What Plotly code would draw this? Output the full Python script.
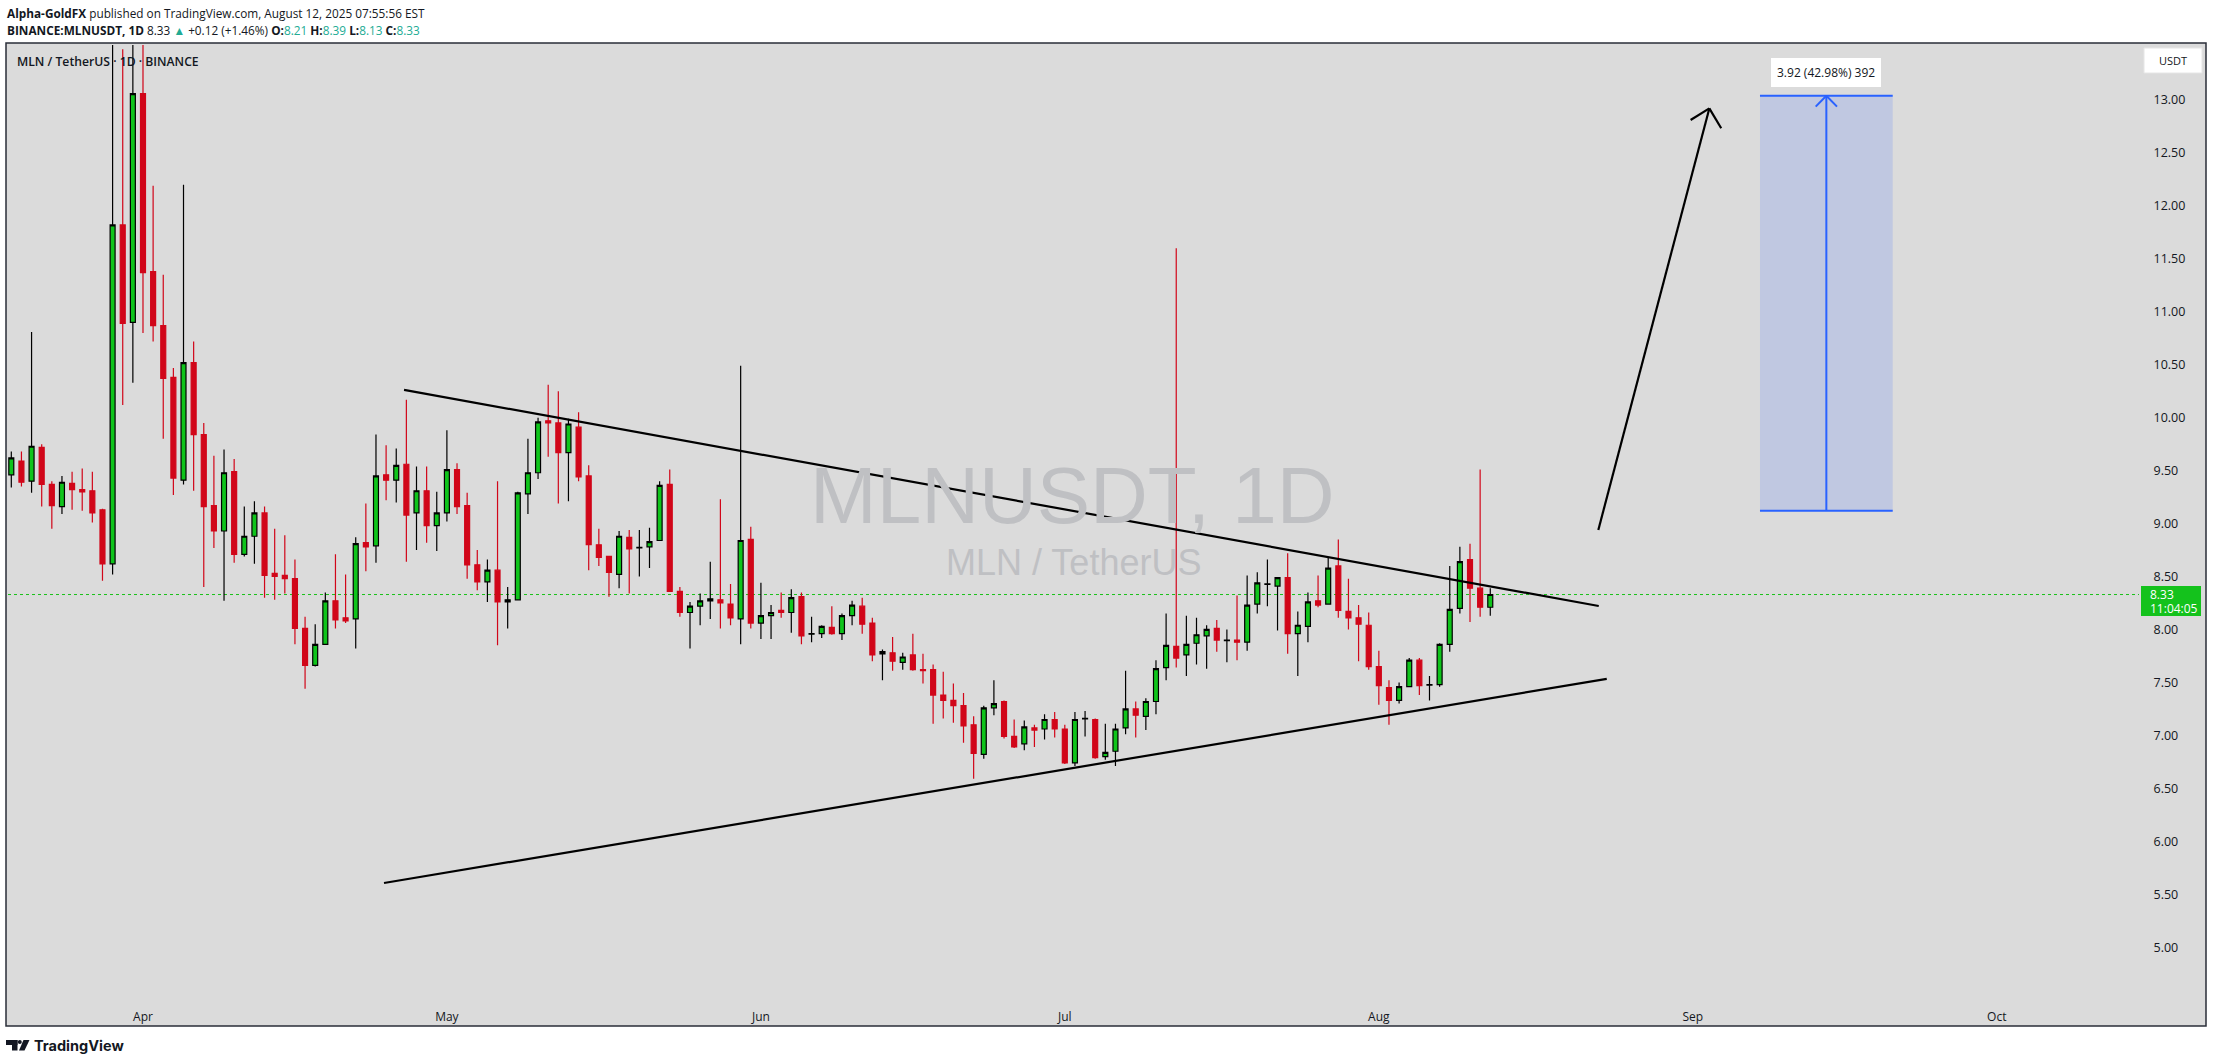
import plotly.graph_objects as go
import pandas as pd

# ---------------- data ----------------
start_date = "2025-03-19"

opens = [9.46, 9.59, 9.40, 9.72, 9.37, 9.16, 9.38, 9.32, 9.31, 9.13,
         8.62, 11.82, 10.90, 13.06, 11.38, 10.87, 10.38, 9.41, 10.52, 9.84,
         9.17, 8.93, 9.49, 8.71, 8.88, 9.10, 8.53, 8.51, 8.48, 8.01,
         7.66, 7.86, 8.27, 8.11, 8.10, 8.82, 8.79, 9.46, 9.41, 9.56,
         9.10, 9.31, 8.98, 9.10, 9.51, 9.17, 8.61, 8.45, 8.56, 8.26,
         8.28, 9.28, 9.48, 9.97, 9.95, 9.67, 9.91, 9.45, 8.80, 8.69,
         8.52, 8.87, 8.77, 8.78, 8.84, 9.37, 8.36, 8.16, 8.22, 8.27,
         8.28, 8.24, 8.10, 8.85, 8.06, 8.13, 8.18, 8.16, 8.31, 7.955,
         7.96, 8.02, 7.96, 8.13, 8.22, 8.06, 7.77, 7.78, 7.69, 7.76,
         7.62, 7.62, 7.38, 7.33, 7.28, 7.10, 6.82, 7.26, 7.32, 6.99,
         6.92, 7.07, 7.06, 7.15, 7.06, 6.74, 7.155, 7.15, 6.80, 6.85,
         7.07, 7.25, 7.18, 7.32, 7.64, 7.84, 7.76, 7.87, 7.94, 8.01,
         7.895, 7.90, 7.88, 8.24, 8.425, 8.41, 8.49, 7.96, 8.03, 8.27,
         8.24, 8.60, 8.17, 8.11, 8.04, 7.65, 7.45, 7.33, 7.46, 7.71,
         7.475, 7.48, 7.86, 8.20, 8.66, 8.39, 8.21]

highs = [9.68, 9.68, 10.81, 9.75, 9.40, 9.45, 9.49, 9.52, 9.49, 9.14,
         14.2, 13.48, 14.2, 14.2, 12.19, 11.35, 10.47, 12.20, 10.72, 9.95,
         9.64, 9.70, 9.61, 9.16, 9.21, 9.16, 8.95, 8.89, 8.66, 8.12,
         8.05, 8.35, 8.71, 8.52, 8.87, 9.19, 9.84, 9.74, 9.71, 10.17,
         9.54, 9.54, 9.30, 9.88, 9.57, 9.29, 8.75, 8.66, 9.40, 8.40,
         9.30, 9.80, 10.00, 10.31, 10.25, 9.99, 10.05, 9.55, 8.95, 8.69,
         8.93, 8.94, 8.94, 8.96, 9.40, 9.51, 8.40, 8.26, 8.34, 8.64,
         9.23, 8.43, 10.49, 8.97, 8.44, 8.23, 8.35, 8.38, 8.35, 8.12,
         8.04, 8.22, 8.15, 8.27, 8.30, 8.11, 7.81, 7.93, 7.78, 7.96,
         7.77, 7.67, 7.60, 7.49, 7.40, 7.18, 7.28, 7.52, 7.33, 7.15,
         7.14, 7.10, 7.20, 7.22, 7.10, 7.22, 7.23, 7.16, 7.11, 7.11,
         7.61, 7.32, 7.35, 7.71, 8.15, 11.60, 8.13, 8.11, 8.04, 8.09,
         8.00, 8.32, 8.51, 8.54, 8.66, 8.49, 8.72, 8.17, 8.35, 8.51,
         8.68, 8.85, 8.48, 8.23, 8.16, 7.80, 7.52, 7.50, 7.73, 7.73,
         7.56, 7.87, 8.60, 8.78, 8.81, 9.51, 8.39]

lows = [9.34, 9.35, 9.29, 9.16, 8.95, 9.09, 9.13, 9.12, 9.01, 8.46,
        8.52, 10.12, 10.33, 10.80, 10.72, 9.80, 9.27, 9.37, 9.31, 8.40,
        8.77, 8.27, 8.63, 8.69, 8.62, 8.30, 8.28, 8.34, 7.86, 7.44,
        7.65, 7.86, 8.01, 8.06, 7.82, 8.55, 8.63, 9.22, 9.20, 8.64,
        8.75, 8.82, 8.74, 9.02, 9.09, 8.48, 8.37, 8.26, 7.85, 8.01,
        8.28, 9.09, 9.42, 9.63, 9.19, 9.21, 9.40, 8.56, 8.60, 8.31,
        8.39, 8.34, 8.50, 8.58, 8.84, 8.36, 8.12, 7.82, 8.04, 8.10,
        8.01, 8.04, 7.86, 8.01, 7.91, 7.91, 8.11, 7.97, 7.86, 7.88,
        7.92, 7.95, 7.90, 8.04, 7.96, 7.70, 7.52, 7.61, 7.62, 7.61,
        7.49, 7.11, 7.16, 7.12, 6.93, 6.59, 6.78, 7.19, 6.97, 6.88,
        6.86, 6.89, 6.96, 6.98, 6.73, 6.71, 6.99, 6.78, 6.77, 6.71,
        7.01, 6.98, 7.05, 7.20, 7.52, 7.64, 7.56, 7.67, 7.63, 7.79,
        7.69, 7.71, 7.80, 8.15, 8.22, 7.99, 7.77, 7.56, 7.88, 8.21,
        8.24, 8.11, 8.00, 7.70, 7.62, 7.29, 7.10, 7.30, 7.46, 7.38,
        7.33, 7.46, 7.79, 8.15, 8.07, 8.12, 8.13]

closes = [9.62, 9.39, 9.73, 9.37, 9.17, 9.39, 9.32, 9.30, 9.10, 8.62,
          11.82, 10.89, 13.06, 11.37, 10.87, 10.37, 9.43, 10.52, 9.84, 9.16,
          8.93, 9.48, 8.71, 8.88, 9.10, 8.51, 8.50, 8.48, 8.01, 7.66,
          7.86, 8.27, 8.09, 8.08, 8.81, 8.78, 9.45, 9.41, 9.55, 9.08,
          9.31, 8.98, 9.10, 9.51, 9.16, 8.61, 8.45, 8.56, 8.26, 8.28,
          9.29, 9.48, 9.96, 9.95, 9.67, 9.94, 9.44, 8.80, 8.68, 8.54,
          8.88, 8.76, 8.775, 8.83, 9.36, 8.36, 8.16, 8.22, 8.27, 8.29,
          8.25, 8.11, 8.84, 8.06, 8.13, 8.16, 8.16, 8.30, 7.94, 7.96,
          8.03, 7.96, 8.13, 8.23, 8.05, 7.76, 7.79, 7.70, 7.74, 7.62,
          7.61, 7.38, 7.33, 7.28, 7.09, 6.83, 7.26, 7.30, 6.99, 6.89,
          7.08, 7.05, 7.15, 7.06, 6.74, 7.15, 7.16, 6.79, 6.84, 7.06,
          7.25, 7.19, 7.32, 7.63, 7.85, 7.73, 7.86, 7.95, 8.00, 7.90,
          7.90, 7.88, 8.23, 8.44, 8.43, 8.49, 7.96, 8.04, 8.26, 8.23,
          8.58, 8.18, 8.11, 8.05, 7.65, 7.47, 7.33, 7.46, 7.71, 7.47,
          7.48, 7.86, 8.19, 8.64, 8.39, 8.21, 8.33]

month_ticks = ["2025-04-01", "2025-05-01", "2025-06-01", "2025-07-01",
               "2025-08-01", "2025-09-01", "2025-10-01"]
month_labels = ["Apr", "May", "Jun", "Jul", "Aug", "Sep", "Oct"]
price_ticks = [5.0, 5.5, 6.0, 6.5, 7.0, 7.5, 8.0, 8.5, 9.0, 9.5,
               10.0, 10.5, 11.0, 11.5, 12.0, 12.5, 13.0]

# drawings (date, price)
upper_line_x = ["2025-04-26 18:30", "2025-08-22 17:00"]
upper_line_y = [10.262, 8.222]
lower_line_x = ["2025-04-24 19:00", "2025-08-23 12:00"]
lower_line_y = [5.606, 7.533]
arrow_x = ["2025-08-22 16:00", "2025-09-02 15:00"]
arrow_y = [8.94, 12.92]
arrow_arm_x = ["2025-08-31 18:40", "2025-09-03 19:10"]
arrow_arm_y = [12.811, 12.733]
target_x = ["2025-09-07 15:00", "2025-09-20 17:30"]
target_y = [9.12, 13.04]
target_mid = "2025-09-14 04:15"
target_arm_x = ["2025-09-13 03:00", "2025-09-15 05:30"]
target_arm_y = 12.937

dates = pd.date_range(start_date, periods=len(opens), freq="D")

# ---------------- layout geometry ----------------
FW, FH = 2213, 1064
ML, MR, MT, MB = 8, 74, 45, 66
PW, PH = FW - ML - MR, FH - MT - MB


def pxx(x):
    return (x - ML) / PW


def pyy(y):
    return (FH - MB - y) / PH


GREEN = "#0FC41B"
RED = "#D10619"
DARK = "#131722"
TEAL = "#22AB94"
BLUE = "#2962FF"
FONT = "Open Sans, Noto Sans, sans-serif"

fig = go.Figure()
fig.add_trace(go.Candlestick(
    x=dates, open=opens, high=highs, low=lows, close=closes,
    increasing=dict(fillcolor=GREEN, line=dict(color="#000000", width=1.2)),
    decreasing=dict(fillcolor=RED, line=dict(color=RED, width=1.2)),
    whiskerwidth=0, hoverinfo="skip", showlegend=False,
))

shapes = []
# grey chart panel
shapes.append(dict(type="rect", xref="paper", yref="paper",
                   x0=pxx(6), x1=pxx(2206), y0=pyy(1026), y1=pyy(43),
                   fillcolor="#DBDBDB", line=dict(color="#2A2E39", width=1.5),
                   layer="below"))
# last price dotted line
shapes.append(dict(type="line", xref="paper", yref="y", x0=0, x1=1,
                   y0=closes[-1], y1=closes[-1],
                   line=dict(color="#19C019", width=1, dash="dot"), layer="below"))
# trend lines
for lx, ly in ((upper_line_x, upper_line_y), (lower_line_x, lower_line_y)):
    shapes.append(dict(type="line", xref="x", yref="y", x0=lx[0], x1=lx[1],
                       y0=ly[0], y1=ly[1], line=dict(color="#000000", width=2.2)))
# big arrow
shapes.append(dict(type="line", xref="x", yref="y", x0=arrow_x[0], x1=arrow_x[1],
                   y0=arrow_y[0], y1=arrow_y[1], line=dict(color="#000000", width=2.2)))
for ax_, ay_ in zip(arrow_arm_x, arrow_arm_y):
    shapes.append(dict(type="line", xref="x", yref="y", x0=arrow_x[1], x1=ax_,
                       y0=arrow_y[1], y1=ay_, line=dict(color="#000000", width=2.2)))
# target box
shapes.append(dict(type="rect", xref="x", yref="y", x0=target_x[0], x1=target_x[1],
                   y0=target_y[0], y1=target_y[1], fillcolor="#C0C8E1",
                   line=dict(width=0)))
for ty in target_y:
    shapes.append(dict(type="line", xref="x", yref="y", x0=target_x[0], x1=target_x[1],
                       y0=ty, y1=ty, line=dict(color=BLUE, width=2)))
shapes.append(dict(type="line", xref="x", yref="y", x0=target_mid, x1=target_mid,
                   y0=target_y[0], y1=target_y[1], line=dict(color=BLUE, width=2)))
for tx in target_arm_x:
    shapes.append(dict(type="line", xref="x", yref="y", x0=target_mid, x1=tx,
                       y0=target_y[1], y1=target_arm_y, line=dict(color=BLUE, width=2)))
# USDT box
shapes.append(dict(type="rect", xref="paper", yref="paper",
                   x0=pxx(2144), x1=pxx(2202), y0=pyy(73), y1=pyy(48),
                   fillcolor="#FFFFFF", line=dict(color="#E6E6E6", width=1)))
# last price label
shapes.append(dict(type="rect", xref="paper", yref="paper",
                   x0=pxx(2141), x1=pxx(2201), y0=pyy(616), y1=pyy(586),
                   fillcolor="#14C21C", line=dict(width=0)))
# TradingView logo icon
shapes.append(dict(type="rect", xref="paper", yref="paper",
                   x0=pxx(6), x1=pxx(17.5), y0=pyy(1045), y1=pyy(1040),
                   fillcolor=DARK, line=dict(width=0)))
shapes.append(dict(type="rect", xref="paper", yref="paper",
                   x0=pxx(12), x1=pxx(17.5), y0=pyy(1050.5), y1=pyy(1040),
                   fillcolor=DARK, line=dict(width=0)))
shapes.append(dict(type="circle", xref="paper", yref="paper",
                   x0=pxx(17.8), x1=pxx(21.8), y0=pyy(1044), y1=pyy(1040),
                   fillcolor=DARK, line=dict(width=0)))
x_a, x_b, x_c, x_d = pxx(23.5), pxx(29.5), pxx(24.5), pxx(19.0)
y_t, y_b = pyy(1040), pyy(1050.5)
shapes.append(dict(type="path", xref="paper", yref="paper",
                   path=f"M {x_a} {y_t} L {x_b} {y_t} L {x_c} {y_b} L {x_d} {y_b} Z",
                   fillcolor=DARK, line=dict(width=0)))

ann = []
hdr = dict(xref="paper", yref="paper", showarrow=False, xanchor="left",
           yanchor="middle", font=dict(family=FONT, size=11.8, color=DARK))
ann.append(dict(hdr, x=pxx(5), y=pyy(13),
                text="<b>Alpha-GoldFX</b> published on TradingView.com, August 12, 2025 07:55:56 EST"))
o, h, l, c = opens[-1], highs[-1], lows[-1], closes[-1]
chg = c - closes[-2]
line2 = (f"<b>BINANCE:MLNUSDT, 1D</b> {c:.2f} <span style='color:{TEAL}'>▲</span> "
         f"+{chg:.2f} (+{chg / closes[-2] * 100:.2f}%) "
         f"<b>O:</b><span style='color:{TEAL}'>{o:.2f}</span> "
         f"<b>H:</b><span style='color:{TEAL}'>{h:.2f}</span> "
         f"<b>L:</b><span style='color:{TEAL}'>{l:.2f}</span> "
         f"<b>C:</b><span style='color:{TEAL}'>{c:.2f}</span>")
ann.append(dict(hdr, x=pxx(5), y=pyy(30), text=line2))
ann.append(dict(hdr, x=pxx(15), y=pyy(61), text="MLN / TetherUS · 1D · BINANCE",
                font=dict(family=FONT, size=12.2, color=DARK, weight=600)))
# watermark
ann.append(dict(xref="paper", yref="paper", showarrow=False, x=pxx(1072), y=pyy(495),
                xanchor="center", yanchor="middle", text="MLNUSDT, 1D",
                font=dict(family="Liberation Sans, Arial, sans-serif", size=80, color="#BFC0C3")))
ann.append(dict(xref="paper", yref="paper", showarrow=False, x=pxx(1073), y=pyy(562),
                xanchor="center", yanchor="middle", text="MLN / TetherUS",
                font=dict(family="Liberation Sans, Arial, sans-serif", size=36, color="#BFC0C3")))
# target label
diff = target_y[1] - target_y[0]
ann.append(dict(xref="x", yref="y", x=target_mid, y=target_y[1], showarrow=False,
                xanchor="center", yanchor="bottom", yshift=9,
                text=f"{diff:.2f} ({diff / target_y[0] * 100:.2f}%) {round(diff * 100)}",
                bgcolor="#FFFFFF", bordercolor="#FFFFFF", borderpad=5,
                font=dict(family=FONT, size=12, color=DARK)))
# axis unit box
ann.append(dict(xref="paper", yref="paper", showarrow=False, x=pxx(2173), y=pyy(60.5),
                xanchor="center", yanchor="middle", text="USDT",
                font=dict(family=FONT, size=11, color=DARK)))
# last price label text
ann.append(dict(xref="paper", yref="paper", showarrow=False, x=pxx(2148), y=pyy(594),
                xanchor="left", yanchor="middle", text=f"{c:.2f}",
                font=dict(family=FONT, size=12, color="#FFFFFF")))
ann.append(dict(xref="paper", yref="paper", showarrow=False, x=pxx(2148), y=pyy(608),
                xanchor="left", yanchor="middle", text="11:04:05",
                font=dict(family=FONT, size=12, color="#FFFFFF")))
# TradingView logo text
ann.append(dict(xref="paper", yref="paper", showarrow=False, x=pxx(32), y=pyy(1045),
                xanchor="left", yanchor="middle", text="TradingView",
                font=dict(family="Inter, Roboto, sans-serif", size=14.5, color=DARK, weight=700)))

fig.update_layout(
    width=FW, height=FH, autosize=False,
    margin=dict(l=ML, r=MR, t=MT, b=MB, pad=0),
    paper_bgcolor="#FFFFFF", plot_bgcolor="rgba(0,0,0,0)",
    shapes=shapes, annotations=ann, showlegend=False,
    xaxis=dict(type="date", range=["2025-03-18 16:10", "2025-10-15 01:00"],
               rangeslider=dict(visible=False), showgrid=False, zeroline=False,
               showline=False, ticks="outside", ticklen=8, tickcolor="rgba(0,0,0,0)",
               tickvals=month_ticks, ticktext=month_labels,
               tickfont=dict(family=FONT, size=12, color=DARK)),
    yaxis=dict(side="right", range=[4.52, 13.519], showgrid=False, zeroline=False,
               showline=False, ticks="outside", ticklen=11, tickcolor="rgba(0,0,0,0)",
               tickvals=price_ticks, ticktext=[f"{v:.2f}" for v in price_ticks],
               tickfont=dict(family=FONT, size=12.5, color=DARK)),
)

fig.write_html("out.html", config={"displayModeBar": False},
               post_script="document.body.style.margin='0px';")
